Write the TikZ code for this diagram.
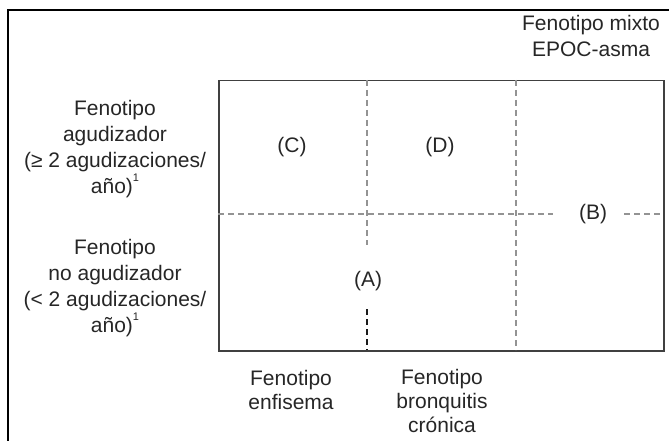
\documentclass[tikz,border=0pt]{standalone}
\usepackage{fontspec}
\setmainfont{Liberation Sans}
\newcommand{\supone}{\raisebox{0.55em}{\fontsize{11}{11}\selectfont 1}}
\begin{document}
\begin{tikzpicture}[x=1pt,y=-1pt,
  lbl/.style={font=\fontsize{21}{26}\selectfont, align=center, inner sep=0pt, text=black!85},
  dsh/.style={dash pattern=on 6pt off 4pt, line width=1.2pt, draw=gray!85},
  dshdark/.style={dash pattern=on 6pt off 4pt, line width=1.6pt, draw=black!90}]
\useasboundingbox (0,0) rectangle (669,441);
% outer frame (only top and left visible)
\coordinate (fbl) at (8,441);
\coordinate (ftl) at (8,10);
\coordinate (ftr) at (669,10);
\draw[line width=1.5pt] (fbl) -- (ftl) -- (ftr);
% inner box
\node[draw=black!75, line width=1.5pt, minimum width=445pt, minimum height=270pt,
      anchor=north west, inner sep=0pt] (box) at (218,80) {};
% dashed grid
\coordinate (v1t) at (367,80);
\coordinate (v1m) at (367,245);
\coordinate (v1n) at (367,309);
\coordinate (v1b) at (367,350);
\coordinate (v2t) at (516,80);
\coordinate (v2b) at (516,350);
\coordinate (h1) at (218,214);
\coordinate (h2) at (553,214);
\coordinate (h3) at (624,214);
\coordinate (h4) at (663,214);
\draw[dsh] (v1t) -- (v1m);
\draw[dshdark] (v1n) -- (v1b);
\draw[dsh] (v2t) -- (v2b);
\draw[dsh] (h1) -- (h2);
\draw[dsh] (h3) -- (h4);
% cell labels
\node[lbl] (C) at (292,147) {(C)};
\node[lbl] (D) at (440,147) {(D)};
\node[lbl] (A) at (368,281) {(A)};
\node[lbl] (B) at (593,214) {(B)};
% side labels
\node[lbl] (mixto) at (591,36) {Fenotipo mixto\\EPOC-asma};
\node[lbl] (agud) at (115,149) {Fenotipo\\agudizador\\(≥ 2 agudizaciones/\\año)\supone};
\node[lbl] (noagud) at (115,288) {Fenotipo\\no agudizador\\(< 2 agudizaciones/\\año)\supone};
\node[lbl, font=\fontsize{21}{24}\selectfont] (enf) at (291,390) {Fenotipo\\enfisema};
\node[lbl, font=\fontsize{21}{24}\selectfont] (bron) at (442,401) {Fenotipo\\bronquitis\\crónica};
\end{tikzpicture}
\end{document}
